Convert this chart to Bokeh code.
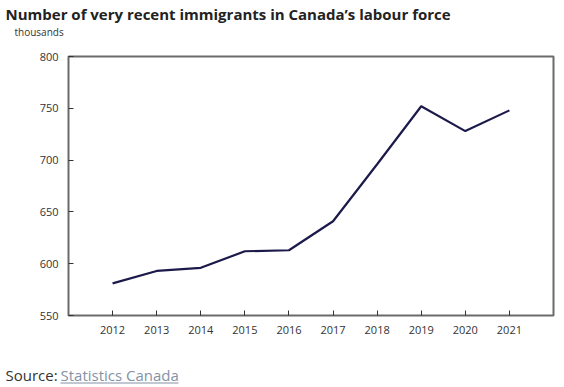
from bokeh.plotting import figure
from bokeh.models import Label, FixedTicker, Range1d, BoxAnnotation
from bokeh.layouts import column, row
from bokeh.embed import file_html
from bokeh.resources import INLINE

years = [2012, 2013, 2014, 2015, 2016, 2017, 2018, 2019, 2020, 2021]
immigrants = [581, 593, 596, 612, 613, 641, 696, 752, 728, 748]
y_ticks = [550, 600, 650, 700, 750, 800]
title_text = "Number of very recent immigrants in Canada\u2019s labour force"
unit_text = "thousands"
source_prefix = "Source: "
source_link = "Statistics Canada"

W = 564
FONT = "Open Sans"


def no_align(f):
    if hasattr(f, "frame_align"):
        f.frame_align = False
    return f


def blank(height):
    f = figure(width=W, height=height, output_backend="svg", toolbar_location=None,
               x_range=Range1d(0, 1), y_range=Range1d(0, 1),
               x_axis_type=None, y_axis_type=None, min_border=0)
    f.outline_line_color = None
    f.grid.visible = False
    f.background_fill_color = "white"
    f.border_fill_color = "white"
    return no_align(f)


# header: title and unit (screen y measured up from the header's bottom edge)
header = blank(40)
header.add_layout(Label(x=5, y=27, x_units="screen", y_units="screen", text=title_text,
                        text_font=FONT, text_font_size="15px", text_font_style="bold",
                        text_color="#222222", text_baseline="middle"))
header.add_layout(Label(x=14, y=9, x_units="screen", y_units="screen", text=unit_text,
                        text_font=FONT, text_font_size="10px", text_color="#333333",
                        text_baseline="middle"))

# main chart
p = figure(width=W, height=320, output_backend="svg", toolbar_location=None,
           x_range=Range1d(2011, 2022), y_range=Range1d(550, 800),
           min_border_left=68, min_border_right=11, min_border_top=16, min_border_bottom=45)
no_align(p)
p.background_fill_color = "white"
p.border_fill_color = "white"
p.outline_line_color = "#6b6b6b"
p.outline_line_width = 2
p.grid.visible = False

p.line(years, immigrants, line_color="#1c1a4a", line_width=2.2)

for ax in (p.xaxis[0], p.yaxis[0]):
    ax.axis_line_color = None
    ax.major_tick_in = 5
    ax.major_tick_out = 0
    ax.major_tick_line_color = "#333333"
    ax.minor_tick_line_color = None
    ax.major_label_text_font = FONT
    ax.major_label_text_font_size = "11px"
    ax.major_label_text_color = "#333333"

p.xaxis[0].ticker = FixedTicker(ticks=years)
p.yaxis[0].ticker = FixedTicker(ticks=y_ticks)
p.xaxis[0].major_label_standoff = 10
p.yaxis[0].major_label_standoff = 10

# footer: source
footer = blank(27)
footer.add_layout(Label(x=5, y=13, x_units="screen", y_units="screen", text=source_prefix,
                        text_font=FONT, text_font_size="15px", text_color="#333333",
                        text_baseline="middle"))
footer.add_layout(Label(x=60, y=13, x_units="screen", y_units="screen", text=source_link,
                        text_font=FONT, text_font_size="15px", text_color="#8492a6",
                        text_baseline="middle"))
footer.add_layout(BoxAnnotation(left=60, right=178, bottom=4, top=5,
                                left_units="screen", right_units="screen",
                                bottom_units="screen", top_units="screen",
                                fill_color="#8492a6", fill_alpha=1, line_color=None))

layout = column(row(header), p, row(footer), spacing=0)
open("out.html", "w").write(file_html(layout, INLINE))
